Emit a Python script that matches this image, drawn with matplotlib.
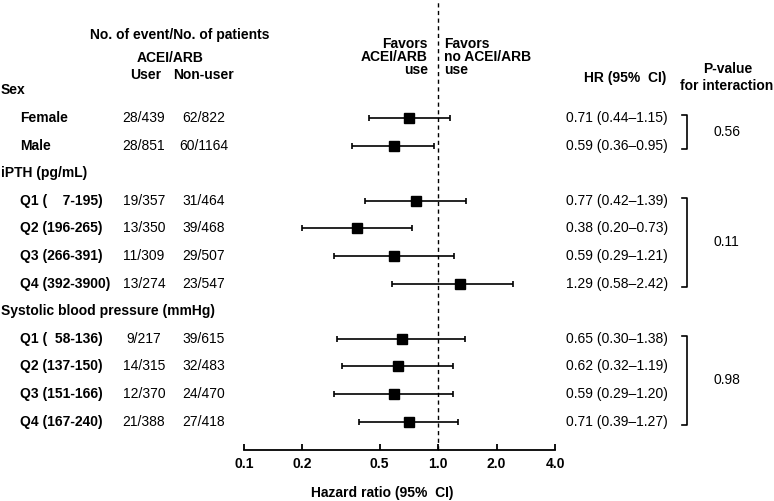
import numpy as np
import matplotlib.pyplot as plt
from matplotlib import transforms
from matplotlib.ticker import NullLocator

plt.rcParams['font.family'] = ['Liberation Sans', 'DejaVu Sans']

# data
group_names = ["Sex", "iPTH (pg/mL)", "Systolic blood pressure (mmHg)"]
subgroups = [
    ["Female", "Male"],
    ["Q1 (    7-195)", "Q2 (196-265)", "Q3 (266-391)", "Q4 (392-3900)"],
    ["Q1 (  58-136)", "Q2 (137-150)", "Q3 (151-166)", "Q4 (167-240)"],
]
user_events = ["28/439", "28/851", "19/357", "13/350", "11/309", "13/274",
               "9/217", "14/315", "12/370", "21/388"]
nonuser_events = ["62/822", "60/1164", "31/464", "39/468", "29/507", "23/547",
                  "39/615", "32/483", "24/470", "27/418"]
hr = [0.71, 0.59, 0.77, 0.38, 0.59, 1.29, 0.65, 0.62, 0.59, 0.71]
ci_low = [0.44, 0.36, 0.42, 0.20, 0.29, 0.58, 0.30, 0.32, 0.29, 0.39]
ci_high = [1.15, 0.95, 1.39, 0.73, 1.21, 2.42, 1.38, 1.19, 1.20, 1.27]
p_interaction = ["0.56", "0.11", "0.98"]
x_ticks = [0.1, 0.2, 0.5, 1.0, 2.0, 4.0]

W, H = 774, 501
fig = plt.figure(figsize=(W / 100, H / 100), dpi=100)

# forest axes spans full height; rows are 0..12 top to bottom
row0, drow = 90.5, 27.6
ax = fig.add_axes([244 / W, 0, (555 - 244) / W, 1])
ax.set_ylim((H - row0) / drow, -row0 / drow)
ax.set_xscale("log")
ax.set_xlim(0.1, 4.0)
axis_row = (450 - row0) / drow

blend = transforms.blended_transform_factory(fig.transFigure, ax.transData)


def fx(px):
    return px / W


def fy(py):
    return 1 - py / H


fs = 10
row = 0
k = 0
for g, name in enumerate(group_names):
    ax.text(fx(1), row, name, transform=blend, ha="left", va="center",
            fontsize=fs, fontweight="bold")
    row += 1
    first = row
    for label in subgroups[g]:
        ax.text(fx(20), row, label, transform=blend, ha="left", va="center",
                fontsize=fs, fontweight="bold")
        ax.text(fx(144), row, user_events[k], transform=blend, ha="center",
                va="center", fontsize=fs)
        ax.text(fx(204), row, nonuser_events[k], transform=blend, ha="center",
                va="center", fontsize=fs)
        ax.errorbar(hr[k], row, xerr=[[hr[k] - ci_low[k]], [ci_high[k] - hr[k]]],
                    fmt="s", color="black", ms=7, capsize=2.5,
                    elinewidth=1.2, capthick=1.2)
        ax.text(fx(566), row,
                "%.2f (%.2f\u2013%.2f)" % (hr[k], ci_low[k], ci_high[k]),
                transform=blend, ha="left", va="center", fontsize=fs)
        row += 1
        k += 1
    last = row - 1
    ax.plot([fx(682), fx(687), fx(687), fx(682)],
            [first - 0.12, first - 0.12, last + 0.12, last + 0.12],
            transform=blend, color="black", lw=1.2, clip_on=False)
    ax.text(fx(713), (first + last) / 2, p_interaction[g], transform=blend,
            ha="left", va="center", fontsize=fs)

# reference line at HR = 1
ax.axvline(1.0, ymin=(H - 450) / H, ymax=1, color="black", lw=1,
           ls=(0, (3, 2.5)))

# x axis
for s in ["left", "right", "top"]:
    ax.spines[s].set_visible(False)
ax.spines["bottom"].set_position(("data", axis_row))
ax.spines["bottom"].set_linewidth(1.3)
ax.set_xticks(x_ticks)
ax.set_xticklabels(["%.1f" % t for t in x_ticks], fontweight="bold", fontsize=fs)
ax.xaxis.set_minor_locator(NullLocator())
ax.tick_params(axis="x", direction="in", length=4, width=1.3, pad=5)
ax.set_yticks([])
ax.patch.set_visible(False)

# headers
bold = dict(fontsize=fs, fontweight="bold", va="center")
fig.text(fx(180), fy(35), "No. of event/No. of patients", ha="center", **bold)
fig.text(fx(170), fy(58), "ACEI/ARB", ha="center", **bold)
fig.text(fx(146), fy(75), "User", ha="center", **bold)
fig.text(fx(203), fy(75), "Non-user", ha="center", **bold)
for py, txt in zip([44, 57, 70], ["Favors", "ACEI/ARB", "use"]):
    fig.text(fx(428), fy(py), txt, ha="right", **bold)
for py, txt in zip([44, 57, 70], ["Favors", "no ACEI/ARB", "use"]):
    fig.text(fx(444), fy(py), txt, ha="left", **bold)
fig.text(fx(625), fy(78), "HR (95%  CI)", ha="center", **bold)
fig.text(fx(728), fy(69), "P-value", ha="center", **bold)
fig.text(fx(727), fy(86), "for interaction", ha="center", **bold)
fig.text(fx(382), fy(493), "Hazard ratio (95%  CI)", ha="center", **bold)

fig.savefig("out.png", dpi=100)
